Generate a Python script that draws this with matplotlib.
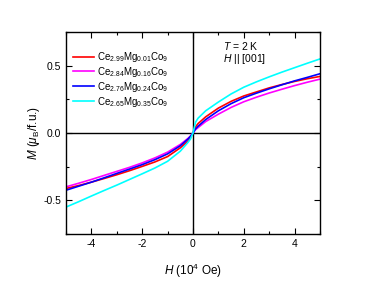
import matplotlib
matplotlib.use("Agg")
import matplotlib.pyplot as plt

plt.rcParams['font.family'] = ['Liberation Sans', 'DejaVu Sans']
plt.rcParams['mathtext.fontset'] = 'custom'
plt.rcParams['mathtext.rm'] = 'Liberation Sans'
plt.rcParams['mathtext.it'] = 'Liberation Sans:italic'
plt.rcParams['axes.unicode_minus'] = False

H = [-5, -4.5, -4, -3.5, -3, -2.5, -2, -1.5, -1, -0.5, -0.2, -0.1, 0,
     0.1, 0.2, 0.5, 1, 1.5, 2, 2.5, 3, 3.5, 4, 4.5, 5]
M_red = [-0.412, -0.39, -0.365, -0.338, -0.31, -0.28, -0.248, -0.215, -0.175, -0.11, -0.06, -0.035, 0,
         0.045, 0.07, 0.12, 0.185, 0.235, 0.275, 0.305, 0.335, 0.36, 0.383, 0.403, 0.42]
M_mag = [-0.40, -0.373, -0.345, -0.315, -0.285, -0.255, -0.222, -0.185, -0.142, -0.085, -0.04, -0.022, 0,
         0.025, 0.04, 0.085, 0.14, 0.19, 0.232, 0.266, 0.297, 0.325, 0.352, 0.377, 0.40]
M_blue = [-0.425, -0.395, -0.365, -0.333, -0.30, -0.268, -0.235, -0.198, -0.155, -0.095, -0.045, -0.025, 0,
          0.03, 0.05, 0.10, 0.165, 0.218, 0.262, 0.296, 0.328, 0.358, 0.387, 0.413, 0.44]
M_cyan = [-0.55, -0.51, -0.468, -0.427, -0.387, -0.345, -0.303, -0.26, -0.21, -0.135, -0.07, -0.045, 0,
          0.08, 0.11, 0.165, 0.23, 0.29, 0.34, 0.38, 0.417, 0.452, 0.485, 0.518, 0.55]

labels = [r'Ce$_{2.99}$Mg$_{0.01}$Co$_9$', r'Ce$_{2.84}$Mg$_{0.16}$Co$_9$',
          r'Ce$_{2.76}$Mg$_{0.24}$Co$_9$', r'Ce$_{2.65}$Mg$_{0.35}$Co$_9$']
colors = ['#ff0000', '#ff00ff', '#0000ff', '#00ffff']
series = [M_red, M_mag, M_blue, M_cyan]

fig = plt.figure(figsize=(3.72, 2.84), dpi=100)
ax = fig.add_axes([66/372, 1-234/284, 254/372, 202/284])

ax.axhline(0, color='black', lw=1.0, zorder=1)
ax.axvline(0, color='black', lw=1.0, zorder=1)
for m, c, l in zip(series, colors, labels):
    ax.plot(H, m, color=c, lw=1.2, label=l, zorder=2)

ax.set_xlim(-5, 5)
ax.set_ylim(-0.745, 0.745)
ax.set_xticks([-4, -2, 0, 2, 4])
ax.set_xticks([-5, -3, -1, 1, 3, 5], minor=True)
ax.set_yticks([-0.5, 0.0, 0.5])
ax.set_yticks([-0.75, -0.25, 0.25, 0.75], minor=True)
ax.set_yticklabels(['-0.5', '0.0', '0.5'])
ax.set_xticklabels(['-4', '-2', '0', '2', '4'])
ax.tick_params(which='both', direction='in', top=True, right=True, labelsize=7.5, width=0.8)
ax.tick_params(which='major', length=4)
ax.tick_params(which='minor', length=2.5)
for s in ax.spines.values():
    s.set_linewidth(1.0)

ax.set_xlabel(r'$\mathit{H}$ (10$^4$ Oe)', fontsize=8.5, labelpad=9)
ax.set_ylabel(r'$\mathit{M}$ ($\mu_{\rm B}$/f.u.)', fontsize=8.5, labelpad=1)

ax.legend(loc='upper left', bbox_to_anchor=(0.0, 0.945), frameon=False, fontsize=7,
          handlelength=2.2, handletextpad=0.3, labelspacing=0.1, borderaxespad=0.3)

ax.text(0.617, 0.96, r'$\mathit{T}$ = 2 K', transform=ax.transAxes, fontsize=7.5, va='top')
ax.text(0.617, 0.9, r'$\mathit{H}$ || [001]', transform=ax.transAxes, fontsize=7.5, va='top')

fig.savefig('out.png', dpi=100)
